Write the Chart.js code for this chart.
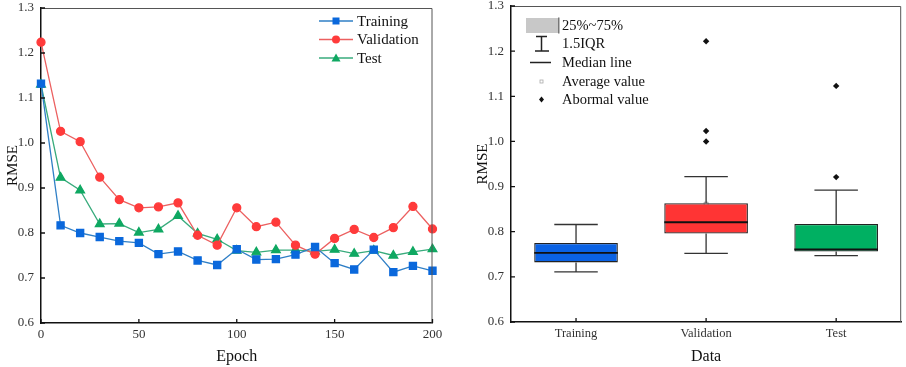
<!DOCTYPE html>
<html>
<head>
<meta charset="utf-8">
<script src="https://cdn.jsdelivr.net/npm/chart.js@4.4.1/dist/chart.umd.min.js"></script>
<style>
  html, body { margin: 0; padding: 0; background: #fff; }
  #wrap { position: relative; width: 906px; height: 367px; overflow: hidden; }
  #lossChart { position: absolute; left: 0; top: 0; }
  #boxChart { position: absolute; left: 470px; top: 0; }
</style>
</head>
<body>
<div id="wrap">
  <canvas id="lossChart" width="445" height="367"></canvas>
  <canvas id="boxChart" width="436" height="367"></canvas>
</div>
<script>
// left panel: RMSE per epoch
const epochs = [0, 10, 20, 30, 40, 50, 60, 70, 80, 90, 100, 110, 120, 130, 140, 150, 160, 170, 180, 190, 200];
const trainingRmse = [1.132, 0.817, 0.800, 0.791, 0.782, 0.778, 0.753, 0.759, 0.739, 0.729, 0.764, 0.741, 0.742, 0.752, 0.769, 0.733, 0.719, 0.763, 0.713, 0.727, 0.716];
const validationRmse = [1.224, 1.026, 1.003, 0.924, 0.874, 0.856, 0.858, 0.867, 0.795, 0.773, 0.856, 0.814, 0.824, 0.773, 0.753, 0.788, 0.808, 0.790, 0.812, 0.859, 0.809];
const testRmse = [1.130, 0.923, 0.895, 0.820, 0.821, 0.801, 0.808, 0.838, 0.799, 0.786, 0.761, 0.757, 0.762, 0.762, 0.759, 0.763, 0.754, 0.761, 0.750, 0.758, 0.764];
const epochTicks = [0, 50, 100, 150, 200];
const rmseTicks = [0.6, 0.7, 0.8, 0.9, 1.0, 1.1, 1.2, 1.3];

// right panel: box plot stats
const boxLabels = ['Training', 'Validation', 'Test'];
const whiskerLow = [0.711, 0.752, 0.747];
const boxQ1 = [0.732, 0.796, 0.756];
const boxMedian = [0.753, 0.821, 0.761];
const boxQ3 = [0.775, 0.863, 0.817];
const whiskerHigh = [0.816, 0.922, 0.892];
const boxMean = [0.757, 0.861, 0.806];
const outlierCats = ['Validation', 'Validation', 'Validation', 'Test', 'Test'];
const outlierValues = [1.222, 1.023, 1.000, 1.123, 0.921];

const serif = "'Times New Roman', 'Liberation Serif', serif";
const blue = '#0a68dc', red = '#ff3b3b', green = '#0fa862';
const boxColors = ['#0a62e4', '#ff3434', '#00b062'];

function pairs(xs, ys) {
  return xs.map((x, i) => ({ x: x, y: ys[i] }));
}

// short inside tick marks + thin top/right frame
const frame = {
  id: 'frame',
  afterDraw(chart) {
    const ctx = chart.ctx, a = chart.chartArea;
    const xs = chart.scales.x, ys = chart.scales.y;
    ctx.save();
    ctx.strokeStyle = '#555';
    ctx.lineWidth = 1;
    ctx.beginPath();
    ctx.moveTo(a.left, a.top + 0.5);
    ctx.lineTo(a.right - 0.5, a.top + 0.5);
    ctx.lineTo(a.right - 0.5, a.bottom);
    ctx.stroke();
    ctx.strokeStyle = '#111';
    ctx.lineWidth = 1.3;
    ctx.beginPath();
    ys.ticks.forEach((t, i) => {
      const y = ys.getPixelForTick(i);
      ctx.moveTo(a.left, y);
      ctx.lineTo(a.left + 4, y);
    });
    xs.ticks.forEach((t, i) => {
      const x = xs.getPixelForTick(i);
      ctx.moveTo(x, a.bottom);
      ctx.lineTo(x, a.bottom - 4);
    });
    ctx.stroke();
    ctx.restore();
  }
};

function drawMarker(ctx, style, x, y, color) {
  ctx.fillStyle = color;
  ctx.beginPath();
  if (style === 'rect') {
    ctx.rect(x - 3.5, y - 3.5, 7, 7);
  } else if (style === 'circle') {
    ctx.arc(x, y, 4, 0, Math.PI * 2);
  } else {
    ctx.moveTo(x, y - 4.5);
    ctx.lineTo(x + 4.5, y + 3.5);
    ctx.lineTo(x - 4.5, y + 3.5);
    ctx.closePath();
  }
  ctx.fill();
}

const lineLegend = {
  id: 'lineLegend',
  afterDraw(chart) {
    const ctx = chart.ctx;
    const items = [
      ['Training', '#2f7fc6', blue, 'rect'],
      ['Validation', '#ec6060', red, 'circle'],
      ['Test', '#38ab7c', green, 'triangle']
    ];
    ctx.save();
    ctx.font = '15px ' + serif;
    ctx.textBaseline = 'middle';
    items.forEach((it, i) => {
      const y = 21 + i * 18.5;
      ctx.strokeStyle = it[1];
      ctx.lineWidth = 1.3;
      ctx.beginPath();
      ctx.moveTo(319, y);
      ctx.lineTo(353, y);
      ctx.stroke();
      drawMarker(ctx, it[3], 336, y, it[2]);
      ctx.fillStyle = '#111';
      ctx.fillText(it[0], 357, y + 1);
    });
    ctx.restore();
  }
};

new Chart(document.getElementById('lossChart'), {
  type: 'line',
  data: {
    datasets: [
      { label: 'Training', data: pairs(epochs, trainingRmse), borderColor: '#2f7fc6', backgroundColor: blue,
        pointBackgroundColor: blue, pointBorderColor: blue, pointStyle: 'rect', pointRadius: 5, borderWidth: 1.3, clip: false },
      { label: 'Validation', data: pairs(epochs, validationRmse), borderColor: '#ec6060', backgroundColor: red,
        pointBackgroundColor: red, pointBorderColor: red, pointStyle: 'circle', pointRadius: 4, borderWidth: 1.3, clip: false },
      { label: 'Test', data: pairs(epochs, testRmse), borderColor: '#38ab7c', backgroundColor: green,
        pointBackgroundColor: green, pointBorderColor: green, pointStyle: 'triangle', pointRadius: 5, borderWidth: 1.3, clip: false }
    ]
  },
  options: {
    responsive: false,
    animation: false,
    layout: { padding: { top: 8, right: 12.5, left: 0, bottom: 0 } },
    plugins: { legend: { display: false }, tooltip: { enabled: false } },
    scales: {
      x: {
        type: 'linear', min: 0, max: 200,
        afterBuildTicks(s) { s.ticks = epochTicks.map(v => ({ value: v })); },
        afterFit(s) { s.height = 44; s.paddingLeft = 0; s.paddingRight = 0; },
        grid: { display: false, drawTicks: false },
        border: { color: '#111', width: 1.5 },
        ticks: { padding: 5, color: '#333', font: { family: serif, size: 13, lineHeight: 1 } },
        title: { display: true, text: 'Epoch', color: '#111', padding: { top: 0, bottom: 1 },
                 font: { family: serif, size: 16 } }
      },
      y: {
        min: 0.6, max: 1.3,
        afterBuildTicks(s) { s.ticks = rmseTicks.map(v => ({ value: v })); },
        afterFit(s) { s.width = 41; s.paddingTop = 0; s.paddingBottom = 0; },
        grid: { display: false, drawTicks: false },
        border: { color: '#111', width: 1.5 },
        ticks: { padding: 7, color: '#333', font: { family: serif, size: 13, lineHeight: 1 },
                 callback: v => v.toFixed(1) },
        title: { display: true, text: 'RMSE', color: '#111', padding: 4, font: { family: serif, size: 15 } }
      }
    }
  },
  plugins: [frame, lineLegend]
});

// whiskers and median lines for the boxes
const boxParts = {
  id: 'boxParts',
  afterDatasetDraw(chart, args) {
    if (args.index !== 0) return;
    const ctx = chart.ctx, xs = chart.scales.x, ys = chart.scales.y;
    const bars = args.meta.data;
    ctx.save();
    boxLabels.forEach((c, i) => {
      const x = xs.getPixelForValue(i);
      const half = bars[i].width / 2;
      const cap = half * 0.52;
      ctx.strokeStyle = '#333';
      ctx.lineWidth = 1.3;
      ctx.beginPath();
      ctx.moveTo(x, ys.getPixelForValue(boxQ3[i]));
      ctx.lineTo(x, ys.getPixelForValue(whiskerHigh[i]));
      ctx.moveTo(x - cap, ys.getPixelForValue(whiskerHigh[i]));
      ctx.lineTo(x + cap, ys.getPixelForValue(whiskerHigh[i]));
      ctx.moveTo(x, ys.getPixelForValue(boxQ1[i]));
      ctx.lineTo(x, ys.getPixelForValue(whiskerLow[i]));
      ctx.moveTo(x - cap, ys.getPixelForValue(whiskerLow[i]));
      ctx.lineTo(x + cap, ys.getPixelForValue(whiskerLow[i]));
      ctx.stroke();
      ctx.strokeStyle = '#111';
      ctx.lineWidth = 1.8;
      ctx.beginPath();
      ctx.moveTo(x - half, ys.getPixelForValue(boxMedian[i]));
      ctx.lineTo(x + half, ys.getPixelForValue(boxMedian[i]));
      ctx.stroke();
    });
    ctx.restore();
  }
};

const boxLegend = {
  id: 'boxLegend',
  afterDraw(chart) {
    const ctx = chart.ctx;
    ctx.save();
    ctx.fillStyle = '#c8c8c8';
    ctx.fillRect(56, 18, 33, 15);
    ctx.strokeStyle = '#777';
    ctx.lineWidth = 1;
    ctx.strokeRect(88.5, 18, 0.5, 15);
    ctx.strokeStyle = '#222';
    ctx.lineWidth = 1.5;
    ctx.beginPath();
    ctx.moveTo(66, 36.5); ctx.lineTo(77, 36.5);
    ctx.moveTo(71.5, 36.5); ctx.lineTo(71.5, 51);
    ctx.moveTo(65, 51); ctx.lineTo(79, 51);
    ctx.moveTo(60, 62.5); ctx.lineTo(81, 62.5);
    ctx.stroke();
    ctx.strokeStyle = '#aaa';
    ctx.lineWidth = 0.8;
    ctx.strokeRect(70, 80, 3, 3);
    ctx.fillStyle = '#111';
    ctx.beginPath();
    ctx.moveTo(71.5, 96.5); ctx.lineTo(74, 99.5); ctx.lineTo(71.5, 102.5); ctx.lineTo(69, 99.5);
    ctx.closePath();
    ctx.fill();
    ctx.font = '14.5px ' + serif;
    ctx.textBaseline = 'middle';
    ['25%~75%', '1.5IQR', 'Median line', 'Average value', 'Abormal value'].forEach((t, i) => {
      ctx.fillText(t, 92, 26 + i * 18.6);
    });
    ctx.restore();
  }
};

new Chart(document.getElementById('boxChart'), {
  type: 'bar',
  data: {
    labels: boxLabels,
    datasets: [
      { label: 'Box', data: boxLabels.map((c, i) => [boxQ1[i], boxQ3[i]]),
        backgroundColor: boxColors, borderColor: '#222', borderWidth: 1.3, borderSkipped: false,
        barPercentage: 0.643, categoryPercentage: 1 },
      { type: 'line', label: 'Average', data: boxLabels.map((c, i) => ({ x: c, y: boxMean[i] })),
        showLine: false, pointStyle: 'rect', pointRadius: 2.8, pointBorderWidth: 0.8,
        pointBackgroundColor: 'rgba(0,0,0,0)', pointBorderColor: 'rgba(60,60,60,0.55)' },
      { type: 'line', label: 'Outliers', data: outlierCats.map((c, i) => ({ x: c, y: outlierValues[i] })),
        showLine: false, pointStyle: 'rectRot', pointRadius: 3.2,
        pointBackgroundColor: '#111', pointBorderColor: '#111', pointBorderWidth: 0 }
    ]
  },
  options: {
    responsive: false,
    animation: false,
    layout: { padding: { top: 6, right: 3, left: 0, bottom: 0 } },
    plugins: { legend: { display: false }, tooltip: { enabled: false } },
    scales: {
      x: {
        type: 'category', offset: true,
        afterFit(s) { s.height = 45; s.paddingLeft = 0; s.paddingRight = 0; },
        grid: { display: false, drawTicks: false, offset: false },
        border: { color: '#111', width: 1.5 },
        ticks: { padding: 5, color: '#333', font: { family: serif, size: 12.5, lineHeight: 1 } },
        title: { display: true, text: 'Data', color: '#111', padding: { top: 0, bottom: 1 },
                 font: { family: serif, size: 16 } }
      },
      y: {
        min: 0.6, max: 1.3,
        afterBuildTicks(s) { s.ticks = rmseTicks.map(v => ({ value: v })); },
        afterFit(s) { s.width = 41; s.paddingTop = 0; s.paddingBottom = 0; },
        grid: { display: false, drawTicks: false },
        border: { color: '#111', width: 1.5 },
        ticks: { padding: 7, color: '#333', font: { family: serif, size: 13, lineHeight: 1 },
                 callback: v => v.toFixed(1) },
        title: { display: true, text: 'RMSE', color: '#111', padding: 4, font: { family: serif, size: 15 } }
      }
    }
  },
  plugins: [boxParts, frame, boxLegend]
});
</script>
</body>
</html>
